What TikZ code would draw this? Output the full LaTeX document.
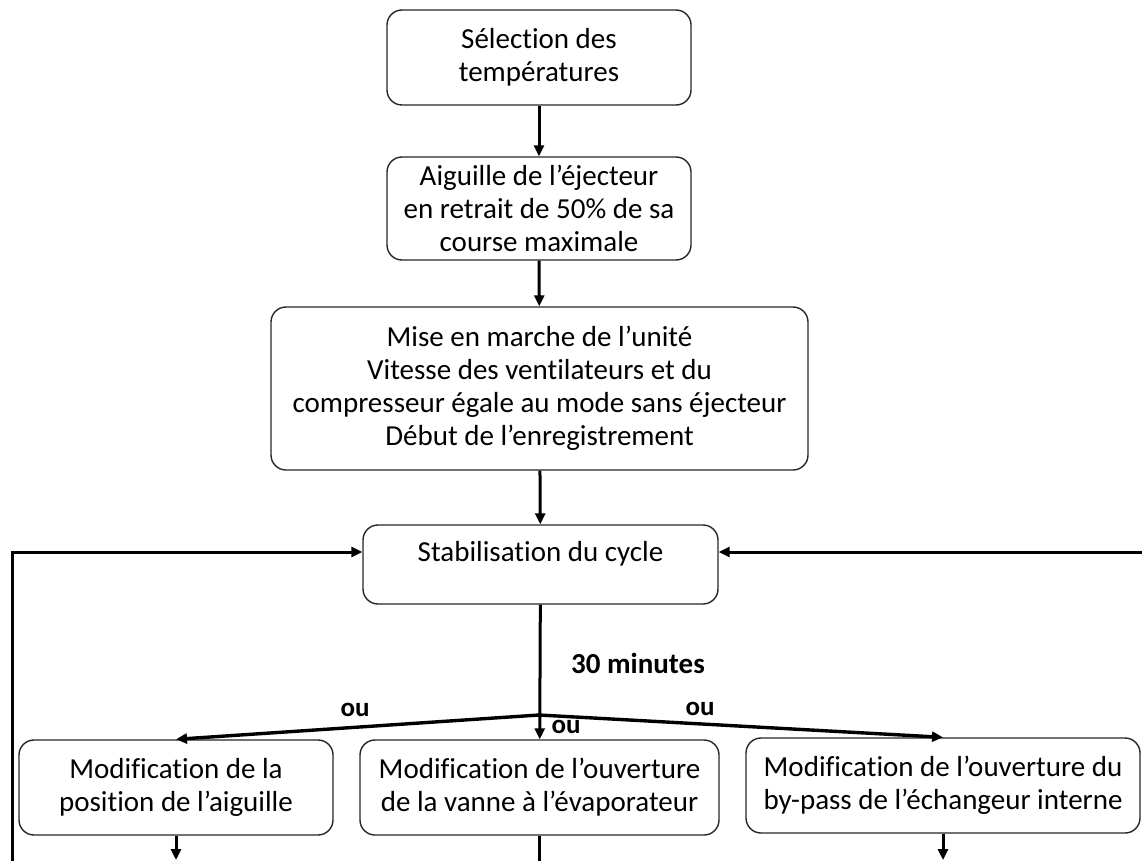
\documentclass[tikz,border=0pt]{standalone}
\usepackage{fontspec}
\setmainfont{Carlito}[Ligatures=NoCommon]
\usetikzlibrary{arrows.meta}
\tikzset{
  stepbox/.style={draw=black!85,line width=1.4pt,rounded corners=15pt,align=center,inner sep=0pt},
  flow/.style={-{Triangle[length=11pt,width=10pt]},line width=3pt},
  oulabel/.style={font=\fontsize{27}{29}\selectfont\bfseries}
}
\begin{document}
\begin{tikzpicture}[x=1pt,y=-1pt,font=\fontsize{29}{33}\selectfont]
\useasboundingbox (0,0) rectangle (1142,861);
\node[stepbox,minimum width=304pt,minimum height=95pt] (sel) at (539,57.5) {Sélection des\\températures};
\node[stepbox,minimum width=304pt,minimum height=103pt] (aig) at (539,208.5) {Aiguille de l’éjecteur\\en retrait de 50\% de sa\\course maximale};
\node[stepbox,minimum width=537pt,minimum height=163pt] (mise) at (539.5,388.5) {Mise en marche de l’unité\\Vitesse des ventilateurs et du\\compresseur égale au mode sans éjecteur\\Début de l’enregistrement};
\node[stepbox,minimum width=355pt,minimum height=79pt,text height=20pt,text depth=26pt] (stab) at (540.5,564.5) {Stabilisation du cycle};
\node[stepbox,minimum width=314pt,minimum height=95pt] (modA) at (176,787.5) {Modification de la\\position de l’aiguille};
\node[stepbox,minimum width=359pt,minimum height=95pt] (modB) at (539.5,787.5) {Modification de l’ouverture\\de la vanne à l’évaporateur};
\node[stepbox,minimum width=394pt,minimum height=95pt] (modC) at (943,785.5) {Modification de l’ouverture du\\by-pass de l’échangeur interne};
% connectors
\draw[flow] (sel) -- (aig);
\draw[flow] (aig) -- (mise);
\draw[flow] (mise) -- (stab);
\draw[flow] (stab) -- (modB);
\coordinate (br) at (539,715);
\draw[flow,line width=3.4pt] (br) -- (modA.north);
\draw[flow,line width=3.4pt] (br) -- (modC.north);
\node[font=\fontsize{29}{33}\selectfont\bfseries] (tmin) at (638,663) {30 minutes};
\node[oulabel] (ouA) at (355,710) {ou};
\node[oulabel] (ouB) at (566,727) {ou};
\node[oulabel] (ouC) at (700,709) {ou};
% loops back to stabilisation
\coordinate (lpA) at (12,861);
\coordinate (lpC) at (1142,552);
\draw[flow] (lpA) |- ([yshift=12.5pt]stab.west);
\draw[flow] (lpC) -- ([yshift=12.5pt]stab.east);
% exits
\coordinate (exA) at (176,860);
\coordinate (exB) at (539.5,861);
\coordinate (exC) at (943,860);
\draw[flow] (modA) -- (exA);
\draw[line width=3pt] (modB) -- (exB);
\draw[flow] (modC) -- (exC);
\end{tikzpicture}
\end{document}
